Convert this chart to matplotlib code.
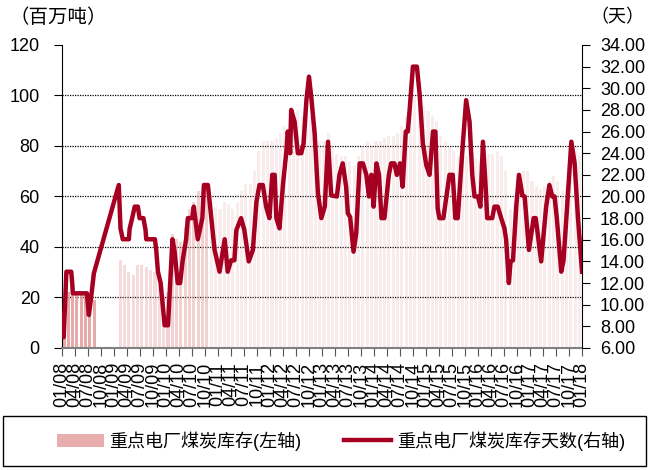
import numpy as np
import pandas as pd
import matplotlib
matplotlib.use("Agg")
import matplotlib.pyplot as plt
import matplotlib.dates as mdates
from matplotlib.patches import Rectangle, Patch
from matplotlib.ticker import FormatStrFormatter

plt.rcParams['font.family'] = ['Liberation Sans', 'Noto Sans CJK SC', 'DejaVu Sans']

# 重点电厂煤炭库存天数 (right axis, days)
day_dates = [
    "2008-01-04", "2008-01-13", "2008-02-01", "2008-03-06", "2008-03-13", "2008-03-17",
    "2008-06-24", "2008-07-08", "2008-07-24", "2008-08-12", "2009-02-03", "2009-02-15",
    "2009-03-03", "2009-04-15", "2009-04-20", "2009-05-08", "2009-05-26", "2009-06-17",
    "2009-06-29", "2009-07-26", "2009-08-10", "2009-08-15", "2009-10-15", "2009-10-24",
    "2009-11-05", "2009-11-24", "2009-12-22", "2010-01-15", "2010-02-15", "2010-03-01",
    "2010-03-24", "2010-04-10", "2010-04-28", "2010-05-22", "2010-06-03", "2010-07-04",
    "2010-07-15", "2010-08-12", "2010-09-13", "2010-09-24", "2010-10-22", "2010-12-08",
    "2011-01-12", "2011-02-17", "2011-03-10", "2011-04-03", "2011-04-26", "2011-05-10",
    "2011-06-12", "2011-07-05", "2011-08-05", "2011-09-03", "2011-09-28", "2011-10-19",
    "2011-11-12", "2011-12-05", "2011-12-28", "2012-01-17", "2012-02-03", "2012-02-15",
    "2012-03-08", "2012-04-01", "2012-04-24", "2012-05-05", "2012-05-22", "2012-05-29",
    "2012-06-22", "2012-07-15", "2012-08-08", "2012-08-24", "2012-09-13", "2012-10-01",
    "2012-10-17", "2012-11-10", "2012-12-03", "2012-12-27", "2013-01-20", "2013-02-12",
    "2013-03-06", "2013-04-15", "2013-05-03", "2013-05-26", "2013-06-19", "2013-07-01",
    "2013-07-17", "2013-08-10", "2013-08-29", "2013-09-22", "2013-10-15", "2013-11-08",
    "2013-11-26", "2013-12-13", "2013-12-29", "2014-01-18", "2014-02-05", "2014-02-22",
    "2014-03-15", "2014-04-15", "2014-05-01", "2014-05-24", "2014-06-10", "2014-07-03",
    "2014-07-21", "2014-08-12", "2014-08-26", "2014-09-08", "2014-10-01", "2014-10-29",
    "2014-11-17", "2014-12-10", "2015-01-03", "2015-01-26", "2015-02-19", "2015-03-08",
    "2015-03-24", "2015-04-05", "2015-05-03", "2015-06-15", "2015-07-08", "2015-07-26",
    "2015-08-12", "2015-09-17", "2015-10-10", "2015-11-03", "2015-11-22", "2015-12-08",
    "2016-01-01", "2016-01-18", "2016-02-05", "2016-02-24", "2016-03-06", "2016-04-10",
    "2016-04-26", "2016-05-19", "2016-06-12", "2016-07-05", "2016-07-17", "2016-08-05",
    "2016-08-17", "2016-09-03", "2016-09-26", "2016-10-15", "2016-11-08", "2016-11-24",
    "2016-12-24", "2017-01-26", "2017-02-10", "2017-03-20", "2017-04-24", "2017-05-17",
    "2017-06-06", "2017-06-22", "2017-07-08", "2017-08-08", "2017-08-24", "2017-09-13",
    "2017-10-18", "2017-11-10", "2017-12-03", "2018-01-01",
]
day_values = [
    9.2, 7.0, 13.05, 13.05, 12.0, 11.05,
    11.05, 9.05, 10.7, 12.9, 21.06, 17.06,
    16.05, 16.05, 17.0, 18.0, 19.06, 19.06,
    18.0, 18.0, 16.9, 16.05, 16.05, 15.06,
    13.05, 12.0, 8.1, 8.1, 16.05, 15.0,
    12.0, 12.0, 14.1, 16.05, 18.0, 18.0,
    19.06, 16.05, 18.0, 21.06, 21.06, 15.06,
    13.05, 16.05, 13.05, 14.1, 14.1, 16.9,
    18.0, 16.9, 14.0, 15.06, 19.5, 21.06,
    21.06, 19.06, 18.0, 22.0, 22.0, 18.0,
    17.06, 21.06, 24.0, 26.0, 24.0, 28.0,
    26.9, 24.0, 24.0, 24.9, 28.9, 31.07,
    29.2, 25.8, 20.3, 18.0, 19.06, 25.06,
    20.1, 20.0, 22.0, 23.06, 20.9, 18.45,
    18.1, 14.9, 16.6, 23.06, 23.06, 22.0,
    20.0, 22.0, 19.06, 23.06, 22.0, 18.0,
    18.0, 22.0, 23.06, 23.06, 22.0, 23.06,
    20.9, 26.0, 26.0, 28.0, 32.0, 32.0,
    29.5, 24.9, 22.9, 22.0, 26.0, 26.0,
    18.9, 18.0, 18.0, 22.0, 22.0, 18.0,
    18.0, 24.9, 28.9, 26.9, 22.0, 20.0,
    20.0, 19.06, 25.06, 20.9, 18.0, 18.0,
    19.06, 19.06, 18.0, 17.06, 16.0, 12.0,
    14.0, 14.1, 19.06, 22.0, 20.1, 20.0,
    15.06, 18.0, 18.0, 14.0, 19.06, 21.06,
    20.0, 20.0, 18.0, 13.05, 14.1, 18.0,
    25.06, 23.06, 18.1, 13.05,
]

# 重点电厂煤炭库存 (left axis, million tonnes), monthly 2008-01 .. 2017-12
stock_months = pd.date_range("2008-01-01", periods=120, freq="MS") + pd.Timedelta(days=14)
nan = np.nan
stock_values = [
    20, 22, 22, 22, 22, 21, 20, 19, nan, nan, nan, nan,
    nan, 35, 33, 30, 29, 33, 33, 32, 31, 30, 25, 20,
    22, 45, 43, 42, 48, 55, 58, 62, 62, 64, 58, 56,
    55, 58, 57, 55, 58, 62, 65, 65, 70, 78, 82, 82,
    82, 83, 85, 88, 90, 92, 94, 92, 93, 92, 88, 82,
    82, 85, 80, 77, 76, 76, 74, 72, 76, 80, 82, 80,
    82, 82, 83, 84, 84, 85, 88, 92, 95, 100, 100, 96,
    94, 92, 90, 84, 82, 80, 78, 76, 75, 76, 76, 75,
    74, 76, 77, 77, 78, 76, 70, 55, 58, 68, 70, 70,
    66, 64, 63, 64, 66, 68, 66, 62, 65, 75, 78, 76,
]

tick_dates = pd.date_range("2008-01-01", "2018-01-01", freq="QS")

days_x = pd.to_datetime(day_dates)

fig = plt.figure(figsize=(6.49, 4.70), dpi=100)
ax = fig.add_axes([0.0955, 0.2596, 0.8013, 0.6447])

# bars get lighter later on (denser data early in the original)
alphas = np.where(stock_months < "2008-10-01", 0.85,
                  np.where(stock_months < "2010-01-01", 0.35,
                           np.where(stock_months < "2010-11-01", 0.45, 0.18)))
bars = ax.bar(stock_months, stock_values, width=22, color='#e39a9a', linewidth=0)
for b, a in zip(bars, alphas):
    b.set_alpha(a)

ax.set_ylim(0, 120)
ax.set_yticks(np.arange(0, 121, 20))
ax.set_xlim(pd.Timestamp("2008-01-01"), pd.Timestamp("2018-01-01"))
ax.set_xticks(tick_dates)
ax.xaxis.set_major_formatter(mdates.DateFormatter("%m/%y"))
ax.tick_params(axis='x', direction='out', length=6, color='#555555', labelsize=13, pad=4,
               labelrotation=90)
ax.tick_params(axis='y', direction='out', length=6, color='black', labelsize=13, pad=10)
ax.yaxis.grid(True, linestyle=(0, (1, 1)), color='black', linewidth=0.9)
gl = ax.get_ygridlines()
gl[0].set_visible(False)
gl[-1].set_visible(False)
ax.set_axisbelow(True)
ax.spines['top'].set_visible(False)
ax.spines['right'].set_visible(False)
ax.spines['bottom'].set_color('#808080')
ax.spines['bottom'].set_linewidth(1.5)
ax.spines['left'].set_color('black')

ax2 = ax.twinx()
line, = ax2.plot(days_x, day_values, color='#a50021', linewidth=3.2, solid_joinstyle='round')
ax2.set_ylim(6, 34)
ax2.set_yticks(np.arange(6, 34.01, 2))
ax2.yaxis.set_major_formatter(FormatStrFormatter('%.2f'))
ax2.tick_params(axis='y', direction='out', length=6, color='black', labelsize=13, pad=7)
for s in ['top', 'left', 'bottom']:
    ax2.spines[s].set_visible(False)
ax2.spines['right'].set_color('black')

fig.text(0.015, 0.962, '（百万吨）', fontsize=14, ha='left', va='center')
fig.text(0.993, 0.962, '（天）', fontsize=13, ha='right', va='center')

# legend frame across the bottom
fig.add_artist(Rectangle((0.005, 0.009), 0.99, 0.106, transform=fig.transFigure,
                         fill=False, edgecolor='black', linewidth=1))
fig.legend([Patch(facecolor='#e39a9a', alpha=0.8), line],
           ['重点电厂煤炭库存(左轴)', '重点电厂煤炭库存天数(右轴)'],
           loc='center', bbox_to_anchor=(0.525, 0.062), ncol=2, frameon=False,
           fontsize=13, handlelength=2.6, handletextpad=0.3, columnspacing=2.4)

fig.savefig("out.png", dpi=100)
